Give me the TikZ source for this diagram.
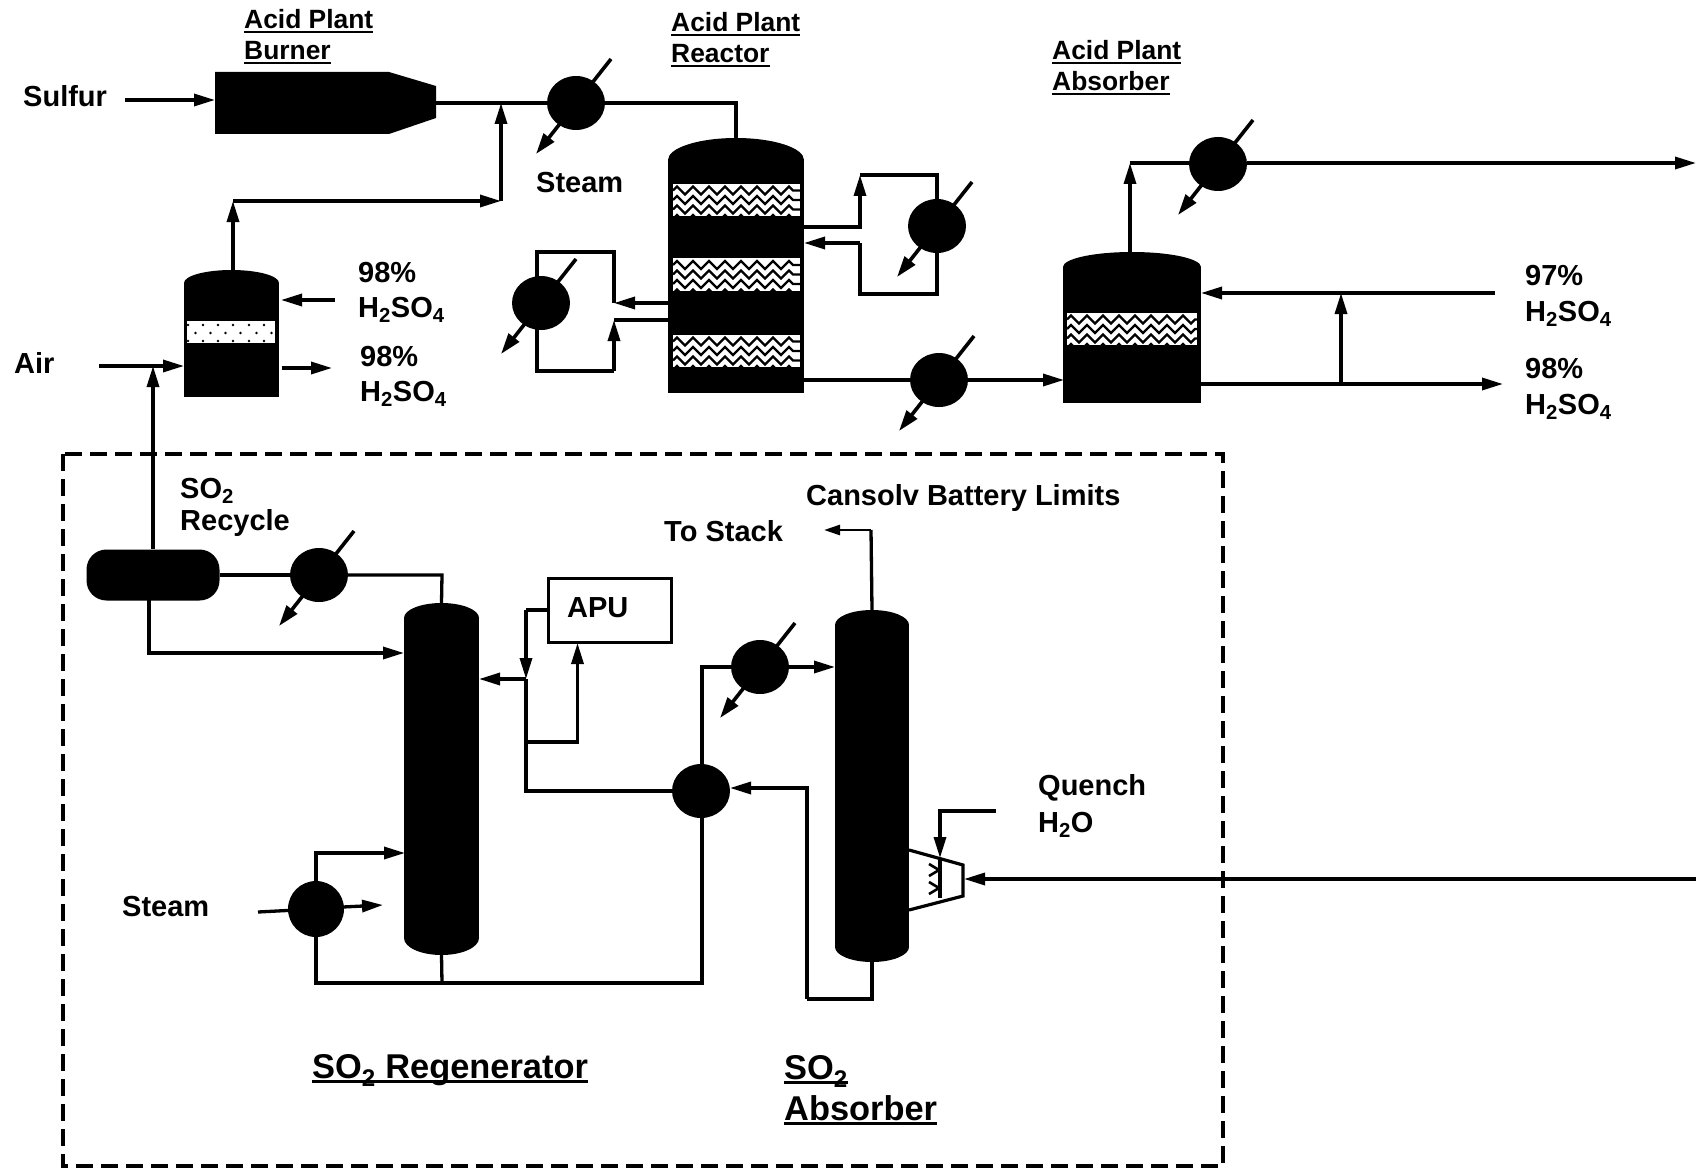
\documentclass[tikz,border=0pt]{standalone}
\usepackage{fontspec}
\setmainfont{Liberation Sans}
\usetikzlibrary{arrows.meta,shapes.geometric,decorations.pathmorphing}
\newcommand{\ulined}[1]{\setbox0=\hbox{#1}\rlap{\rule[-4.5pt]{\wd0}{2.6pt}}\box0}
\tikzset{
  pipe/.style={line width=3.3pt},
  flow/.style={line width=3.3pt,-{Triangle[length=21pt,width=12pt]}},
  vessel/.style={rectangle,fill=black,inner sep=0pt},
  dome/.style={ellipse,fill=black,inner sep=0pt},
  hx/.style={ellipse,fill=black,inner sep=0pt,minimum width=58pt,minimum height=54pt},
  packing/.style={rectangle,fill=white,inner sep=0pt,path picture={
    \foreach \k in {-19,-9.5,0,9.5}
      \draw[black,line width=2.2pt,decorate,decoration={zigzag,segment length=16pt,amplitude=4pt}]
        ([yshift=\k pt]path picture bounding box.west) -- ([yshift=\k pt]path picture bounding box.east);}},
  lbl/.style={anchor=base west,inner sep=0pt,font=\fontsize{29}{34}\selectfont\bfseries},
  headlbl/.style={anchor=base west,inner sep=0pt,font=\fontsize{26.4}{32}\selectfont\bfseries},
  biglbl/.style={anchor=base west,inner sep=0pt,font=\fontsize{34.4}{40}\selectfont\bfseries}
}
\begin{document}
\begin{tikzpicture}[x=1pt,y=-1pt]
  \useasboundingbox (0,0) rectangle (1696,1169);

  % labels
  \node[lbl] (sulfur) at (23,107) {Sulfur};
  \node[lbl] (air) at (14,373) {Air};
  \node[headlbl] (burner1) at (244,29) {\ulined{Acid Plant}};
  \node[headlbl] (burner2) at (244,60) {\ulined{Burner}};
  \node[headlbl] (reactor1) at (671,32) {\ulined{Acid Plant}};
  \node[headlbl] (reactor2) at (671,63) {\ulined{Reactor}};
  \node[headlbl] (absorber1) at (1052,60) {\ulined{Acid Plant}};
  \node[headlbl] (absorber2) at (1052,91) {\ulined{Absorber}};
  \node[lbl] (steam1) at (536,193) {Steam};
  \node[lbl] (pct1) at (358,282) {98\%};
  \node[lbl] (acid1) at (358,317) {H\textsubscript{2}SO\textsubscript{4}};
  \node[lbl] (pct2) at (360,366) {98\%};
  \node[lbl] (acid2) at (360,401) {H\textsubscript{2}SO\textsubscript{4}};
  \node[lbl] (pct3) at (1525,285) {97\%};
  \node[lbl] (acid3) at (1525,321) {H\textsubscript{2}SO\textsubscript{4}};
  \node[lbl] (pct4) at (1525,378) {98\%};
  \node[lbl] (acid4) at (1525,414) {H\textsubscript{2}SO\textsubscript{4}};
  \node[lbl] (recycle1) at (180,498) {SO\textsubscript{2}};
  \node[lbl] (recycle2) at (180,530) {Recycle};
  \node[lbl] (limits) at (806,505) {Cansolv Battery Limits};
  \node[lbl] (stack) at (664,541) {To Stack};
  \node[lbl] (quench1) at (1038,795) {Quench};
  \node[lbl] (quench2) at (1038,832) {H\textsubscript{2}O};
  \node[lbl] (steam2) at (122,916) {Steam};
  \node[biglbl] (regen) at (312,1078) {\ulined{SO\textsubscript{2} Regenerator}};
  \node[biglbl] (so2abs1) at (784,1079) {\ulined{SO\textsubscript{2}}};
  \node[biglbl] (so2abs2) at (784,1120) {\ulined{Absorber}};

  % vessels
  \fill (215,72) -- (389,72) -- (436,86) -- (436,118) -- (389,134) -- (215,134) -- cycle;
  \node[dome,minimum width=95pt,minimum height=26pt] (dryertop) at (231.5,283) {};
  \node[vessel,minimum width=95pt,minimum height=114pt] (dryer) at (231.5,340) {};
  \node[rectangle,fill=white,inner sep=0pt,minimum width=88pt,minimum height=22pt] (dryerbed) at (231,332) {};
  \foreach \x in {188,203,218,233,249,264} {
    \fill (\x,325) circle (1.3);
    \fill (\x,341) circle (1.3);
    \fill (\x+7.5,333) circle (1.3);
  }
  \node[dome,minimum width=136pt,minimum height=44pt] (reactortop) at (736,160) {};
  \node[vessel,minimum width=136pt,minimum height=233pt] (reactor) at (736,276.5) {};
  \node[packing,minimum width=127pt,minimum height=32pt] (bed1) at (736.5,200) {};
  \node[packing,minimum width=127pt,minimum height=33pt] (bed2) at (736.5,274.5) {};
  \node[packing,minimum width=127pt,minimum height=32pt] (bed3) at (736.5,351) {};
  \node[dome,minimum width=138pt,minimum height=30pt] (absorbertop) at (1132,267) {};
  \node[vessel,minimum width=138pt,minimum height=136pt] (absorber) at (1132,335) {};
  \node[packing,minimum width=130pt,minimum height=32pt] (bed4) at (1132,329) {};
  \node[dome,minimum width=75pt,minimum height=30pt] (regentop) at (441.5,618) {};
  \node[vessel,minimum width=75pt,minimum height=320pt] (regenbody) at (441.5,778) {};
  \node[dome,minimum width=75pt,minimum height=34pt] (regenbot) at (441.5,938) {};
  \node[dome,minimum width=74pt,minimum height=30pt] (so2top) at (872,625) {};
  \node[vessel,minimum width=74pt,minimum height=322pt] (so2body) at (872,786) {};
  \node[dome,minimum width=74pt,minimum height=30pt] (so2bot) at (872,947) {};
  \node[rectangle,fill=black,inner sep=0pt,rounded corners=20pt,minimum width=133pt,minimum height=51pt] (drum) at (153,575) {};
  \node[rectangle,draw,line width=3pt,inner sep=0pt,minimum width=123pt,minimum height=64pt] (apu) at (609.5,610) {};
  \node[lbl] (apulbl) at (567,617) {APU};

  % exchangers
  \node[hx] (hx1) at (576,103) {};
  \node[hx] (hx2) at (937,226) {};
  \node[hx] (hx3) at (541,303) {};
  \node[hx] (hx4) at (939,380) {};
  \node[hx] (hx5) at (1218,164) {};
  \node[hx] (hx6) at (319,575) {};
  \node[hx] (hx7) at (760,667) {};
  \node[hx] (rich) at (701,791) {};
  \node[hx,minimum width=56pt,minimum height=56pt] (reboiler) at (316,909) {};
  \foreach \h in {hx1,hx2,hx3,hx4,hx5,hx6,hx7}
    \draw[line width=3.6pt,-{Triangle[length=21pt,width=13pt]}] ([shift={(35,-44)}]\h.center) -- ([shift={(-40,51)}]\h.center);

  % free ends and bends
  \coordinate (sulfurin) at (125,100);
  \coordinate (burnerin) at (215,100);
  \coordinate (burnerout) at (436,103);
  \coordinate (airin) at (99,366);
  \coordinate (dryerin) at (184,366);
  \coordinate (airjoin) at (153,366);
  \coordinate (bend1) at (233,201);
  \coordinate (bend2) at (501,201);
  \coordinate (join1) at (501,103);
  \coordinate (acidin) at (335,300);
  \coordinate (acidintip) at (281,300);
  \coordinate (acidout) at (282,368);
  \coordinate (acidouttip) at (332,368);
  \coordinate (r2out) at (804,227);
  \coordinate (r2up) at (860,227);
  \coordinate (r2top) at (860,175);
  \coordinate (r2bot) at (860,294);
  \coordinate (r2turn) at (860,243);
  \coordinate (r2in) at (804,243);
  \coordinate (r3out) at (668,303);
  \coordinate (r3turn) at (614,303);
  \coordinate (r3top) at (614,252);
  \coordinate (r3left) at (537,252);
  \coordinate (r3in) at (668,320);
  \coordinate (r3low) at (614,320);
  \coordinate (r3bot) at (614,371);
  \coordinate (r3corner) at (537,371);
  \coordinate (r4out) at (804,380);
  \coordinate (absin) at (1064,380);
  \coordinate (absup) at (1130,253);
  \coordinate (abscorner) at (1130,163);
  \coordinate (ventout) at (1696,163);
  \coordinate (acid97) at (1495,293);
  \coordinate (abs97) at (1201,293);
  \coordinate (abs98) at (1201,384);
  \coordinate (acid98) at (1503,384);
  \coordinate (tee1) at (1341,384);
  \coordinate (tee2) at (1341,293);
  \coordinate (drumup) at (153,549);
  \coordinate (drumdown) at (149,600);
  \coordinate (regenin) at (404,653);
  \coordinate (regenhead) at (442,575);
  \coordinate (apuout) at (548,610);
  \coordinate (apuleft) at (526,610);
  \coordinate (apudown) at (526,679);
  \coordinate (regenlean) at (479,679);
  \coordinate (richleft) at (526,790);
  \coordinate (apubranch) at (526,742);
  \coordinate (apuin) at (577.5,643);
  \coordinate (hx7in) at (702,667);
  \coordinate (so2in) at (835,667);
  \coordinate (so2out) at (872,962);
  \coordinate (so2low) at (872,999);
  \coordinate (richin) at (807,999);
  \coordinate (richtip) at (730,788);
  \coordinate (richbot) at (702,983);
  \coordinate (regenout) at (442,983);
  \coordinate (rebbot) at (316,983);
  \coordinate (regenreb) at (405,853);
  \coordinate (stackup) at (871,530);
  \coordinate (stacktip) at (824,530);
  \coordinate (steamin) at (258,912);
  \coordinate (steamout) at (343,907);
  \coordinate (steamtip) at (383,905);
  \coordinate (gasin) at (1696,879);
  \coordinate (venturi) at (964,879);
  \coordinate (waterin) at (996,811);
  \coordinate (watertip) at (940,858);
  \coordinate (wateroff) at (940,898);

  % acid plant
  \draw[flow] (sulfurin) -- (burnerin);
  \draw[pipe] (burnerout) -- (hx1);
  \draw[pipe] (hx1) -| (reactortop.north);
  \draw[flow] (airin) -- (dryerin);
  \draw[flow] (drumup) -- (airjoin);
  \draw[flow] (dryertop.north -| bend1) -- (bend1);
  \draw[flow] (bend1) -- (bend2);
  \draw[flow] (bend2) -- (join1);
  \draw[flow] (acidin) -- (acidintip);
  \draw[flow] (acidout) -- (acidouttip);
  \draw[flow] (r2out) -- (r2up) -- (r2top);
  \draw[pipe] (r2top) -| (hx2);
  \draw[pipe] (hx2) |- (r2bot) -- (r2turn);
  \draw[flow] (r2turn) -- (r2in);
  \draw[flow] (r3out) -- (r3turn);
  \draw[pipe] (r3turn) -- (r3top) -- (r3left) -- (r3left |- hx3);
  \draw[pipe] (r3left |- hx3) -- (r3corner) -- (r3bot);
  \draw[flow] (r3bot) -- (r3low);
  \draw[pipe] (r3low) -- (r3in);
  \draw[pipe] (r4out) -- (hx4);
  \draw[flow] (hx4) -- (absin);
  \draw[flow] (absup) -- (abscorner);
  \draw[pipe] (abscorner) -- (abscorner -| hx5);
  \draw[flow] (hx5.east |- abscorner) -- (ventout);
  \draw[flow] (acid97) -- (abs97);
  \draw[flow] (abs98) -- (acid98);
  \draw[flow] (tee1) -- (tee2);

  % cansolv unit
  \draw[line width=3.4pt,dash pattern=on 17pt off 8pt] (63,454) rectangle (1223,1166);
  \draw[pipe] (drum) -- (hx6);
  \draw[pipe] (hx6) -| (regenhead) -- (regentop.north);
  \draw[flow] (drumdown) |- (regenin);
  \draw[pipe] (apuout) -- (apuleft);
  \draw[flow] (apuleft) -- (apudown);
  \draw[flow] (apudown) -- (regenlean);
  \draw[pipe] (apudown) |- (rich);
  \draw[flow] (apubranch) -| (apuin);
  \draw[pipe] (rich.north -| hx7in) -- (hx7in) -- (hx7);
  \draw[flow] (hx7) -- (so2in);
  \draw[pipe] (rich.south -| richbot) -- (richbot) -- (regenout) -- (rebbot) -- (reboiler);
  \draw[pipe] (regenbot.south) -- (regenout);
  \draw[flow] (reboiler) |- (regenreb);
  \draw[pipe] (steamin) -- (reboiler);
  \draw[flow] (steamout) -- (steamtip);
  \draw[pipe] (so2out) -- (so2low) -- (richin);
  \draw[flow] (richin) |- (richtip);
  \draw[pipe] (so2top.north) -- (stackup);
  \draw[line width=2.6pt,-{Triangle[length=16pt,width=10pt]}] (stackup) -- (stacktip);

  % venturi
  \draw[line width=3.2pt] (909,850) -- (963,865) -- (963,896) -- (909,910);
  \draw[pipe] (watertip) -- (wateroff);
  \draw[flow] (waterin) -| (watertip);
  \draw[flow] (gasin) -- (venturi);
  \foreach \y in {870,888}
    \draw[line width=2.6pt] (929,\y-6) -- (939,\y) -- (929,\y+6);
\end{tikzpicture}
\end{document}
